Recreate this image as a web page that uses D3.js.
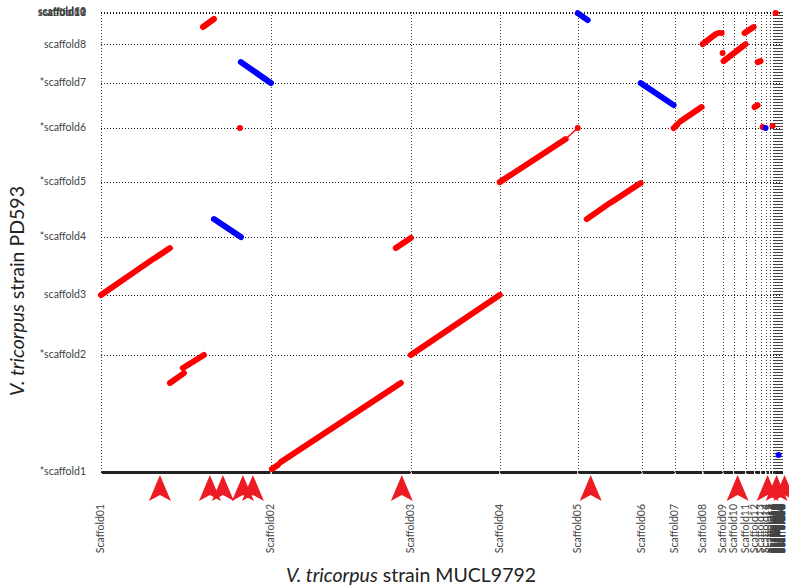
<!DOCTYPE html>
<html>
<head>
<meta charset="utf-8">
<script src="https://cdn.jsdelivr.net/npm/d3@7/dist/d3.min.js"></script>
<style>
  body { margin: 0; background: #fff; }
  svg { display: block; font-family: Lato, "Liberation Sans", sans-serif; }
</style>
</head>
<body>
<svg id="chart" width="789" height="588"></svg>
<script>

// x genome (MUCL9792) scaffolds, lengths in Mb
var xNames = ["Scaffold01","Scaffold02","Scaffold03","Scaffold04","Scaffold05","Scaffold06","Scaffold07","Scaffold08","Scaffold09","Scaffold10",
  "Scaffold11","Scaffold12","Scaffold13","Scaffold14","Scaffold15","Scaffold16","Scaffold17","Scaffold18","Scaffold19","Scaffold20",
  "Scaffold21","Scaffold22","Scaffold23","Scaffold24","Scaffold25","Scaffold26","Scaffold27","Scaffold28","Scaffold29","Scaffold30",
  "Scaffold31","Scaffold32","Scaffold33","Scaffold34","Scaffold35","Scaffold36","Scaffold37","Scaffold38","Scaffold39","Scaffold40",
  "Scaffold41","Scaffold42","Scaffold43","Scaffold44","Scaffold45","Scaffold46","Scaffold47","Scaffold48","Scaffold49","Scaffold50",
  "Scaffold51","Scaffold52","Scaffold53","Scaffold54","Scaffold55"];
var xLengths = [8.5, 7.0, 4.45, 3.9, 3.2, 1.65, 1.4, 1.0, 0.55, 0.6,
  0.45, 0.3, 0.25, 0.2, 0.15, 0.04, 0.035, 0.03, 0.03, 0.025,
  0.025, 0.02, 0.02, 0.02, 0.018, 0.016, 0.015, 0.014, 0.013, 0.012,
  0.011, 0.01, 0.01, 0.009, 0.009, 0.008, 0.008, 0.007, 0.007, 0.006,
  0.006, 0.005, 0.005, 0.005, 0.004, 0.004, 0.004, 0.003, 0.003, 0.003,
  0.003, 0.002, 0.002, 0.002, 0.002];

// y genome (PD593) scaffolds, lengths in Mb
var yNames = ["*scaffold1","*scaffold2","scaffold3","*scaffold4","*scaffold5","*scaffold6","*scaffold7","scaffold8","scaffold9","scaffold10","scaffold11","scaffold12"];
var yLengths = [8.48, 4.35, 4.2, 3.98, 3.92, 3.26, 2.82, 2.25, 0.03, 0.02, 0.02, 0.01];

// alignments: [x1, y1, x2, y2] in cumulative Mb
var forwardHits = [
  [0.0, 12.83, 2.6, 15.43], [2.7, 15.51, 3.45, 16.23],
  [3.45, 6.45, 4.15, 7.17], [4.1, 7.54, 5.15, 8.48],
  [5.1, 32.25, 5.65, 32.83],
  [6.95, 24.93, 6.95, 24.93],
  [8.55, 0.22, 8.85, 0.51], [9.0, 0.72, 15.0, 6.45],
  [14.75, 16.23, 15.5, 16.96],
  [15.5, 8.48, 19.95, 12.83],
  [19.95, 21.01, 23.25, 24.13], [23.85, 24.93, 23.85, 24.93],
  [24.3, 18.33, 25.45, 19.49], [25.55, 19.57, 27.0, 20.94],
  [28.65, 24.93, 28.85, 25.22], [29.0, 25.43, 30.05, 26.45],
  [30.1, 31.01, 30.75, 31.74], [30.9, 31.81, 30.9, 31.81], [31.05, 31.81, 31.05, 31.81],
  [31.15, 29.78, 32.25, 31.01], [31.1, 30.36, 31.1, 30.36],
  [32.2, 31.81, 32.65, 32.25],
  [32.85, 29.71, 33.0, 29.78],
  [32.7, 26.45, 32.85, 26.59],
  [33.1, 25.0, 33.1, 25.0], [33.6, 25.07, 33.6, 25.07],
  [33.75, 33.26, 33.75, 33.26]
];
var reverseHits = [
  [7.0, 29.71, 8.5, 28.19],
  [5.65, 18.33, 7.0, 17.03],
  [23.85, 33.26, 24.35, 32.75],
  [27.0, 28.19, 28.65, 26.59],
  [33.25, 24.93, 33.25, 24.93],
  [33.9, 1.23, 33.9, 1.23]
];
var thinLinks = [[23.25, 24.13, 23.85, 24.93]];

// red markers under the x axis, Mb
var markers = [2.95, 5.45, 6.1, 7.1, 7.6, 15.05, 24.5, 31.85, 33.35, 33.8, 34.2];

var svg = d3.select("#chart");

function starts(lengths) {
  var acc = 0;
  return lengths.map(function (l) { var s = acc; acc += l; return s; });
}
var xStarts = starts(xLengths);
var yStarts = starts(yLengths);
var xTotal = d3.sum(xLengths);
var yTotal = d3.sum(yLengths);

var x = d3.scaleLinear().domain([0, xTotal]).range([101, 782]);
var y = d3.scaleLinear().domain([0, yTotal]).range([472, 12]);
var bottom = y(0);

function crisp(v) { return Math.round(v) + 0.5; }

// grid lines at scaffold boundaries
svg.append("g").selectAll("line")
  .data(xStarts)
  .enter().append("line")
    .attr("x1", function (d) { return crisp(x(d)); })
    .attr("x2", function (d) { return crisp(x(d)); })
    .attr("y1", Math.round(y(yStarts[yStarts.length - 1])))
    .attr("y2", bottom)
    .attr("stroke", "#444")
    .attr("stroke-dasharray", "1,2");

svg.append("g").selectAll("line")
  .data(yStarts)
  .enter().append("line")
    .attr("x1", 101)
    .attr("x2", 782)
    .attr("y1", function (d) { return crisp(y(d)); })
    .attr("y2", function (d) { return crisp(y(d)); })
    .attr("stroke", "#111")
    .attr("stroke-dasharray", "1,2");

// thick axis bar, broken at each scaffold
svg.append("g").selectAll("line")
  .data(xStarts)
  .enter().append("line")
    .attr("x1", function (d) { return x(d) + 1; })
    .attr("x2", function (d, i) { return x(d + xLengths[i]) - 0.5; })
    .attr("y1", 472.5)
    .attr("y2", 472.5)
    .attr("stroke", "#222")
    .attr("stroke-width", 3);

// y labels
svg.append("g").selectAll("text")
  .data(yNames)
  .enter().append("text")
    .attr("x", 86)
    .attr("y", function (d, i) { return y(yStarts[i]); })
    .attr("dy", "0.32em")
    .attr("text-anchor", "end")
    .attr("font-size", "10.5px")
    .attr("fill", "#444")
    .text(function (d) { return d; });

// x labels, rotated
svg.append("g").selectAll("text")
  .data(xNames)
  .enter().append("text")
    .attr("transform", function (d, i) { return "translate(" + (x(xStarts[i]) + 3) + ",504) rotate(-90)"; })
    .attr("text-anchor", "end")
    .attr("font-size", "10.5px")
    .attr("fill", "#444")
    .text(function (d) { return d; });

// alignments
svg.append("g").selectAll("line")
  .data(thinLinks)
  .enter().append("line")
    .attr("x1", function (d) { return x(d[0]); })
    .attr("y1", function (d) { return y(d[1]); })
    .attr("x2", function (d) { return x(d[2]); })
    .attr("y2", function (d) { return y(d[3]); })
    .attr("stroke", "#f00")
    .attr("stroke-width", 1.5);

[[forwardHits, "#ff0000"], [reverseHits, "#0000ff"]].forEach(function (set) {
  svg.append("g").selectAll("line")
    .data(set[0])
    .enter().append("line")
      .attr("x1", function (d) { return x(d[0]); })
      .attr("y1", function (d) { return y(d[1]); })
      .attr("x2", function (d) { return x(d[2]); })
      .attr("y2", function (d) { return y(d[3]); })
      .attr("stroke", set[1])
      .attr("stroke-width", 6)
      .attr("stroke-linecap", "round");
});

// red arrow markers
svg.append("g").selectAll("path")
  .data(markers)
  .enter().append("path")
    .attr("transform", function (d) { return "translate(" + x(d) + ",475)"; })
    .attr("d", "M0,0L11,26L0,20L-11,26Z")
    .attr("fill", "#ed1c24");

// axis titles
var xTitle = svg.append("text")
  .attr("x", 411)
  .attr("y", 582)
  .attr("text-anchor", "middle")
  .attr("font-size", "19.5px")
  .attr("fill", "#222");
xTitle.append("tspan").attr("font-style", "italic").text("V. tricorpus");
xTitle.append("tspan").text(" strain MUCL9792");

var yTitle = svg.append("text")
  .attr("transform", "translate(24,291) rotate(-90)")
  .attr("text-anchor", "middle")
  .attr("font-size", "19.5px")
  .attr("fill", "#222");
yTitle.append("tspan").attr("font-style", "italic").text("V. tricorpus");
yTitle.append("tspan").text(" strain PD593");

</script>
</body>
</html>
